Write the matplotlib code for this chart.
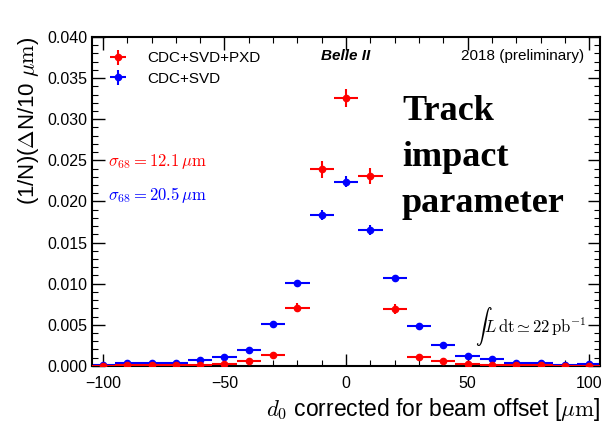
import matplotlib
matplotlib.use("Agg")
import matplotlib.pyplot as plt
from matplotlib.ticker import MultipleLocator, FormatStrFormatter

plt.rcParams['font.family'] = ['Liberation Sans', 'DejaVu Sans']
plt.rcParams['mathtext.fontset'] = 'cm'

x = [-100, -90, -80, -70, -60, -50, -40, -30, -20, -10, 0, 10, 20, 30, 40, 50, 60, 70, 80, 90, 100]
red = [0.00005, 0.0001, 0.0001, 0.0001, 0.0001, 0.0002, 0.0006, 0.0013, 0.0071, 0.0239, 0.0326,
       0.0231, 0.0069, 0.0011, 0.0006, 0.0002, 0.0001, 0.0001, 0.0001, 0.00005, 0.00005]
red_err = [0.0001, 0.0001, 0.0001, 0.0001, 0.0001, 0.0001, 0.0002, 0.0003, 0.0006, 0.0010, 0.0011,
           0.0010, 0.0006, 0.0003, 0.0002, 0.0001, 0.0001, 0.0001, 0.0001, 0.0001, 0.0001]
blue = [0.0001, 0.0003, 0.0003, 0.0003, 0.0007, 0.0011, 0.0019, 0.0051, 0.0101, 0.0183, 0.0224,
        0.0165, 0.0107, 0.0049, 0.0026, 0.0012, 0.0009, 0.0003, 0.0003, 0.0001, 0.0002]
blue_err = [0.0001, 0.0001, 0.0001, 0.0001, 0.0001, 0.0002, 0.0002, 0.0003, 0.0004, 0.0006, 0.0007,
            0.0006, 0.0004, 0.0003, 0.0002, 0.0002, 0.0001, 0.0001, 0.0001, 0.0001, 0.0001]
xerr = 5

fig = plt.figure(figsize=(6.05, 4.25), dpi=100)
ax = fig.add_axes([0.152, 0.139, 0.840, 0.774])

ax.errorbar(x, red, yerr=red_err, xerr=xerr, fmt='o', color='red', ms=4.5,
            elinewidth=1.5, capsize=0, label='CDC+SVD+PXD', zorder=3)
ax.errorbar(x, blue, yerr=blue_err, xerr=xerr, fmt='o', color='blue', ms=4.5,
            elinewidth=1.5, capsize=0, label='CDC+SVD', zorder=2)

ax.set_xlim(-104.5, 104.5)
ax.set_ylim(0, 0.040)
ax.xaxis.set_major_locator(MultipleLocator(50))
ax.xaxis.set_minor_locator(MultipleLocator(10))
ax.yaxis.set_major_locator(MultipleLocator(0.005))
ax.yaxis.set_minor_locator(MultipleLocator(0.001))
ax.tick_params(which='both', direction='in', top=True, right=True, labelsize=11.5)
ax.tick_params(which='major', length=9, width=1)
ax.tick_params(which='minor', length=4.5, width=0.8)
ax.tick_params(axis='x', pad=7)
for s in ax.spines.values():
    s.set_linewidth(1.5)
ax.yaxis.set_major_formatter(FormatStrFormatter('%.3f'))

ax.set_ylabel(r'(1/N)($\Delta$N/10 $\mu\mathrm{m}$)', fontsize=16, loc='top')
ax.set_xlabel(r'$d_0$ corrected for beam offset [$\mu\mathrm{m}$]', fontsize=16.5, loc='right')

leg = ax.legend(loc='upper left', frameon=False, fontsize=11, handlelength=1.5,
                borderaxespad=0.55, labelspacing=0.4, handletextpad=1.2)

ax.text(0.0, 0.0377, 'Belle II', ha='center', va='center', fontsize=11,
        fontweight='bold', style='italic')
ax.text(98, 0.0377, '2018 (preliminary)', ha='right', va='center', fontsize=11)
ax.text(-98, 0.0249, r'$\sigma_{68} = 12.1\,\mu\mathrm{m}$', color='red', fontsize=12, va='center')
ax.text(-98, 0.0208, r'$\sigma_{68} = 20.5\,\mu\mathrm{m}$', color='blue', fontsize=12, va='center')
ax.text(23, 0.0309, 'Track', fontsize=26, family='Liberation Serif', fontweight='bold', va='center')
ax.text(23, 0.0253, 'impact', fontsize=26, family='Liberation Serif', fontweight='bold', va='center')
ax.text(23, 0.0198, 'parameter', fontsize=26, family='Liberation Serif', fontweight='bold', va='center')
ax.text(53, 0.0048, r'$\int L\,\mathrm{dt} \simeq 22\,\mathrm{pb}^{-1}$', fontsize=12, va='center')

fig.savefig('out.png', dpi=100)
